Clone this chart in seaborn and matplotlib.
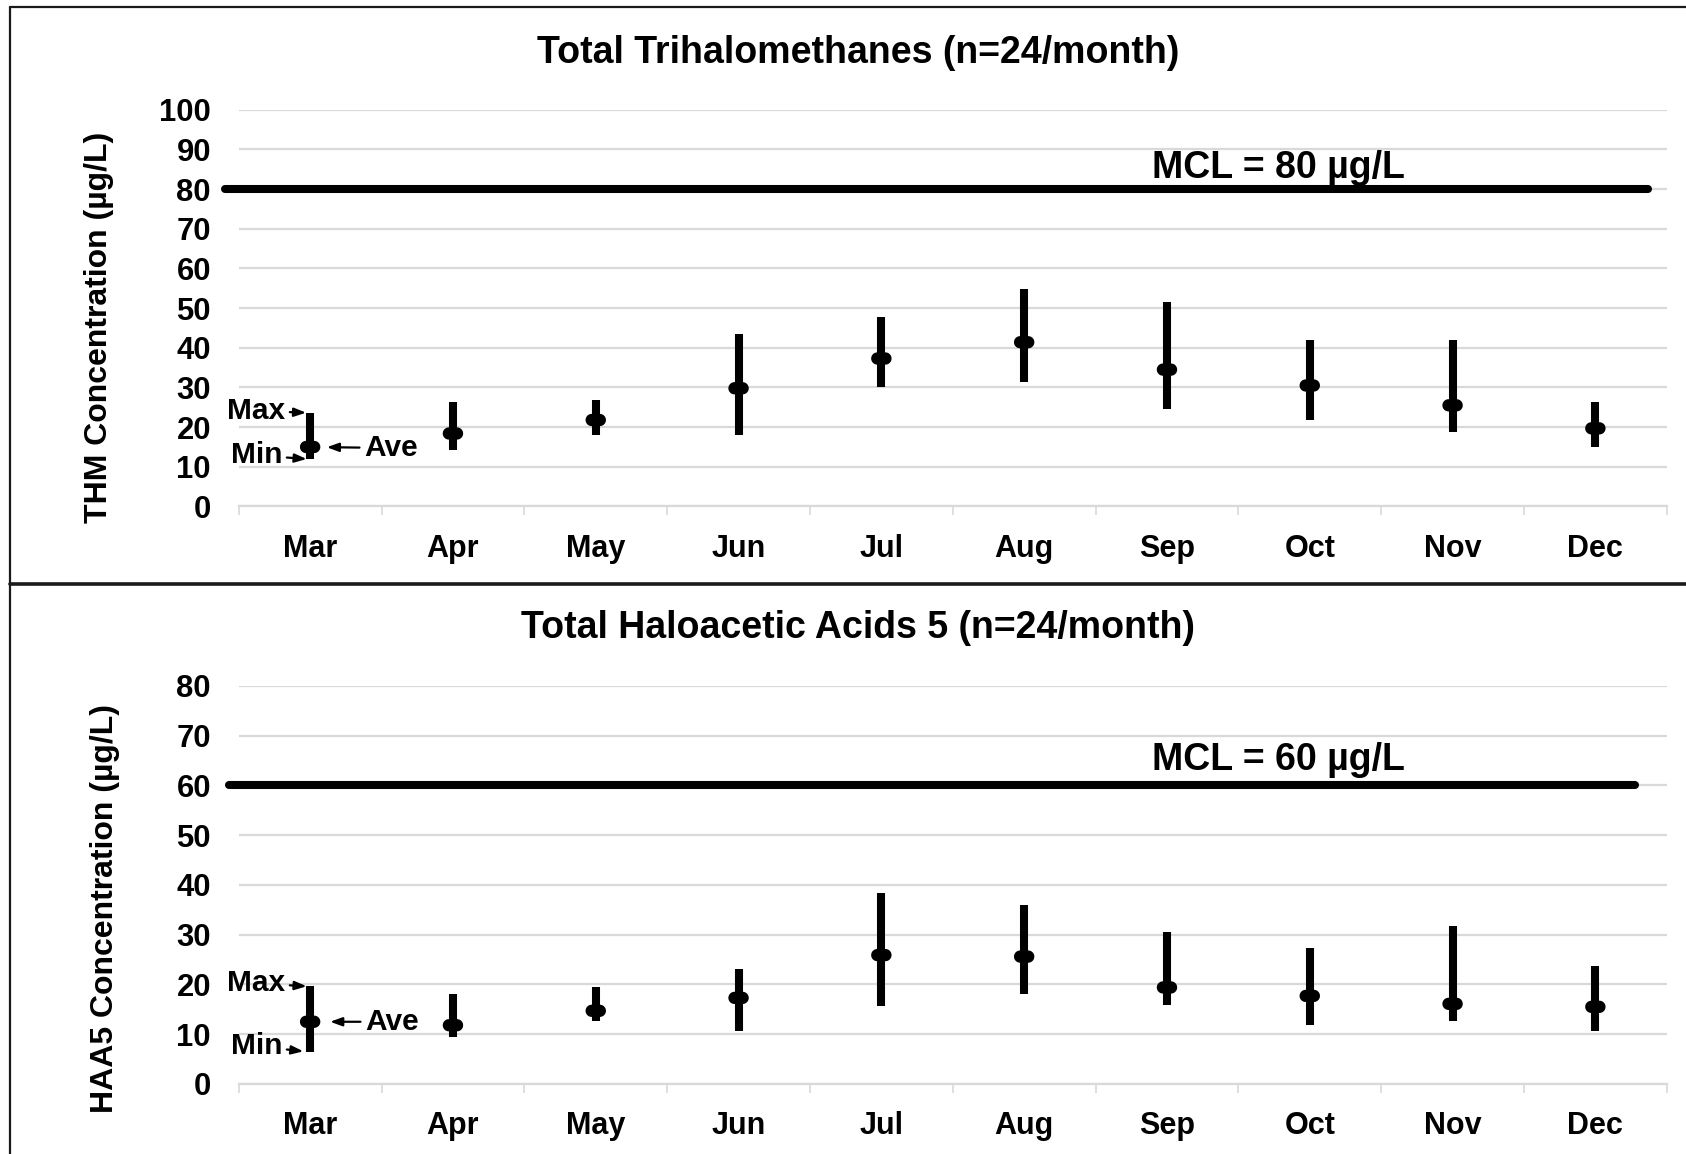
import numpy as np
import pandas as pd
import matplotlib
matplotlib.use("Agg")
import matplotlib.pyplot as plt
import seaborn as sns
from matplotlib.path import Path
from matplotlib.lines import Line2D

# ---------------- data ----------------
months = ["Mar", "Apr", "May", "Jun", "Jul", "Aug", "Sep", "Oct", "Nov", "Dec"]

thm_max = [23.6, 26.3, 26.9, 43.5, 47.8, 54.8, 51.5, 41.9, 42.0, 26.3]
thm_min = [11.9, 14.2, 17.9, 18.0, 30.0, 31.5, 24.5, 21.8, 18.9, 15.1]
thm_ave = [15.0, 18.4, 21.8, 29.8, 37.3, 41.4, 34.5, 30.5, 25.5, 19.7]

haa_max = [19.6, 18.0, 19.5, 23.1, 38.4, 36.0, 30.5, 27.4, 31.7, 23.8]
haa_min = [6.4, 9.5, 12.6, 10.6, 15.7, 18.1, 15.9, 11.8, 12.6, 10.6]
haa_ave = [12.5, 11.8, 14.7, 17.3, 25.9, 25.6, 19.4, 17.7, 16.1, 15.5]

thm_mcl = 80
haa_mcl = 60
thm_yticks = list(range(0, 101, 10))
haa_yticks = list(range(0, 81, 10))

titles = ["Total Trihalomethanes (n=24/month)", "Total Haloacetic Acids 5 (n=24/month)"]
ylabels = ["THM Concentration (µg/L)", "HAA5 Concentration (µg/L)"]
mcl_labels = ["MCL = 80 µg/L", "MCL = 60 µg/L"]

# ---------------- style ----------------
sns.set_theme(style="white")
plt.rcParams["font.family"] = ["Liberation Sans", "DejaVu Sans"]
plt.rcParams["font.weight"] = "bold"
plt.rcParams["text.color"] = "black"
plt.rcParams["axes.labelcolor"] = "black"

GRID = "#d9d9d9"

# stadium-shaped marker for the averages
r = 0.6
c = 0.4
th1 = np.linspace(-np.pi / 2, np.pi / 2, 20)
th2 = np.linspace(np.pi / 2, 3 * np.pi / 2, 20)
verts = np.vstack([
    np.column_stack([c + r * np.cos(th1), r * np.sin(th1)]),
    np.column_stack([-c + r * np.cos(th2), r * np.sin(th2)]),
])
verts = np.vstack([verts, verts[:1]])
stadium = Path(verts, closed=True)

fig = plt.figure(figsize=(16.86, 11.54), dpi=100)
ax1 = fig.add_axes([0.1416, 0.5611, 0.8470, 0.3438])
ax2 = fig.add_axes([0.1416, 0.0607, 0.8470, 0.3449])


def panel(ax, vmax, vmin, vave, mcl, yticks, mcl_label, ylabel, mcl_span, mcl_dy, ylab_pos):
    df = pd.DataFrame({"x": np.arange(len(months)), "month": months,
                       "hi": vmax, "lo": vmin, "ave": vave})
    ax.vlines(df["x"], df["lo"], df["hi"], color="black", lw=5.8, zorder=3)
    sns.scatterplot(data=df, x="x", y="ave", marker=stadium, s=215, color="black",
                    edgecolor="none", linewidth=0, ax=ax, zorder=4, legend=False)
    ax.axhline(mcl, mcl_span[0], mcl_span[1], color="black", lw=5.8, clip_on=False, zorder=3)
    ax.text(6.78, mcl + mcl_dy, mcl_label, ha="center", va="baseline",
            fontsize=27, fontweight="bold", color="black")

    ax.set_xlim(-0.5, len(months) - 0.5)
    ax.set_ylim(0, yticks[-1])
    ax.set_yticks(yticks)
    ax.set_yticklabels([str(t) for t in yticks], fontweight="bold")
    ax.set_xticks(df["x"])
    ax.set_xticklabels(months, fontweight="bold")
    ax.set_xticks(np.arange(-0.5, len(months), 1), minor=True)
    ax.tick_params(axis="x", which="major", length=0, pad=19.5, labelsize=22, labelcolor="black")
    ax.tick_params(axis="x", which="minor", length=6.5, width=1.2, color=GRID,
                   direction="out", bottom=True)
    ax.tick_params(axis="y", length=0, pad=20, labelsize=22.3, labelcolor="black")
    ax.grid(axis="y", color=GRID, lw=1.6)
    ax.grid(axis="x", visible=False)
    ax.set_axisbelow(True)
    for s in ["top", "right", "left"]:
        ax.spines[s].set_visible(False)
    ax.spines["bottom"].set_color(GRID)
    ax.spines["bottom"].set_linewidth(1.6)
    ax.set_xlabel("")
    ax.set_ylabel(ylabel, fontsize=23, fontweight="bold", color="black", va="center")
    ax.yaxis.set_label_coords(*ylab_pos)


panel(ax1, thm_max, thm_min, thm_ave, thm_mcl, thm_yticks, mcl_labels[0], ylabels[0],
      (-0.0098, 0.9869), 2.8, (-0.098, 0.451))
panel(ax2, haa_max, haa_min, haa_ave, haa_mcl, haa_yticks, mcl_labels[1], ylabels[1],
      (-0.0068, 0.978), 3.2, (-0.0936, 0.44))

# annotations explaining the symbols (on the first month)
arrow = dict(arrowstyle="-|>,head_length=0.33,head_width=0.12", color="black",
             lw=1.6, shrinkA=1)
ann_kw = dict(textcoords="offset pixels", fontsize=21.5, fontweight="bold", va="center",
              color="black")


def explain(ax, i, vmax, vmin, vave, specs):
    for txt, val, off, ha, shrink in zip(["Max", "Min", "Ave"], [vmax[i], vmin[i], vave[i]],
                                         specs["off"], specs["ha"], specs["shrink"]):
        ax.annotate(txt, xy=(i, val), xytext=off, ha=ha,
                    arrowprops=dict(arrow, shrinkB=shrink), **ann_kw)


explain(ax1, 0, thm_max, thm_min, thm_ave,
        {"off": [(-25, 2), (-28, 4), (54, -1)], "ha": ["right", "right", "left"],
         "shrink": [2.9, 2.5, 12]})
explain(ax2, 0, haa_max, haa_min, haa_ave,
        {"off": [(-25, 3), (-28, 6), (55, 0)], "ha": ["right", "right", "left"],
         "shrink": [2.5, 4.9, 14.4]})

# titles
fig.text(0.509, 0.9545, titles[0], ha="center", va="center", fontsize=27, fontweight="bold",
         color="black")
fig.text(0.509, 0.4560, titles[1], ha="center", va="center", fontsize=27, fontweight="bold",
         color="black")

# panel borders
fig.add_artist(Line2D([0.0059, 1.0], [0.9939, 0.9939], transform=fig.transFigure,
                      color="#1a1a1a", lw=1.6))
fig.add_artist(Line2D([0.0059, 0.0059], [0.0, 0.9939], transform=fig.transFigure,
                      color="#1a1a1a", lw=1.6))
fig.add_artist(Line2D([0.0059, 1.0], [0.4939, 0.4939], transform=fig.transFigure,
                      color="#1a1a1a", lw=2.6))

fig.savefig("out.png", dpi=100, facecolor="white")
